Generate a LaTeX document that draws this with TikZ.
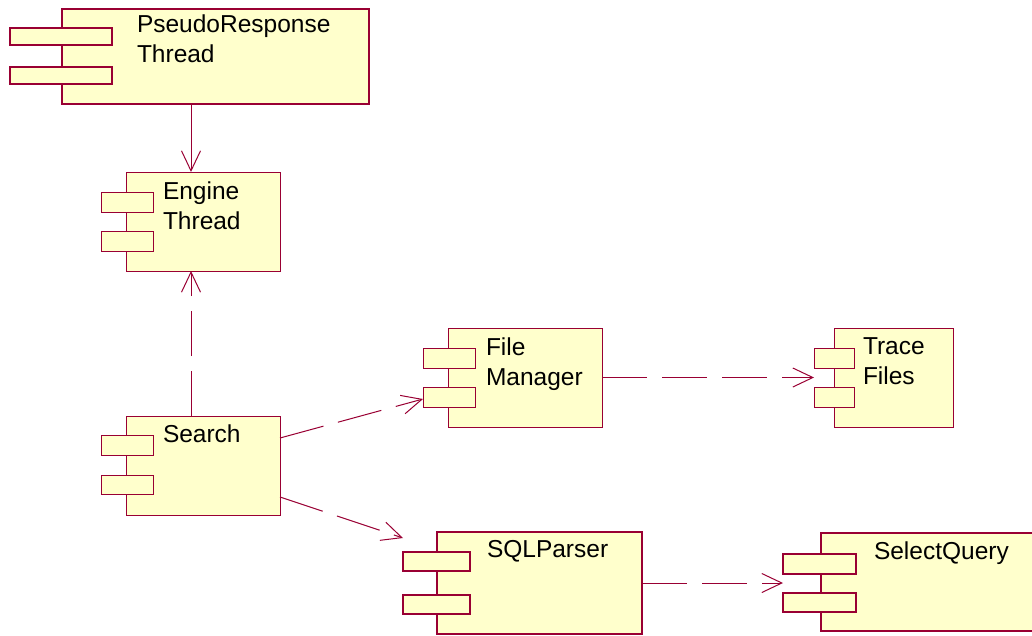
\documentclass[tikz,border=0pt]{standalone}
\usepackage{fontspec}
\setmainfont{Liberation Sans}
\usetikzlibrary{arrows.meta}
\definecolor{umlline}{RGB}{153,0,51}
\definecolor{umlfill}{RGB}{255,255,204}
\begin{document}
\begin{tikzpicture}[x=1pt,y=-1pt,
  body/.style={draw=umlline, fill=umlfill, rectangle, inner sep=0pt, outer sep=0pt, line width=1pt},
  heavy/.style={line width=2pt},
  label/.style={anchor=north west, inner sep=0pt, outer sep=0pt, align=left,
    font=\fontsize{24.5}{30.5}\selectfont},
  tip/.style={-{Straight Barb[length=20pt,width=19pt]}},
  use/.style={draw=umlline, line width=1pt, tip},
  dep/.style={use, dash pattern=on 45pt off 15pt}
]
\useasboundingbox (0,0) rectangle (1032,635);

% PseudoResponse Thread
\node[body, heavy, minimum width=307pt, minimum height=95.5pt] (pr) at (215.5,56.25) {};
\node[body, heavy, minimum width=102pt, minimum height=17.5pt] (pr-t1) at (61,36.5) {};
\node[body, heavy, minimum width=102pt, minimum height=17.5pt] (pr-t2) at (61,75.5) {};
\node[label] (pr-l) at (137,14.5) {PseudoResponse\\Thread};

% Engine Thread
\node[body, minimum width=154pt, minimum height=99pt] (eng) at (203,221.5) {};
\node[body, minimum width=52pt, minimum height=19.5pt] (eng-t1) at (127,202.5) {};
\node[body, minimum width=52pt, minimum height=19.5pt] (eng-t2) at (127,241.5) {};
\node[label] (eng-l) at (163,181.5) {Engine\\Thread};

% Search
\node[body, minimum width=154pt, minimum height=99pt] (search) at (203,465.5) {};
\node[body, minimum width=52pt, minimum height=19.5pt] (search-t1) at (127,445.5) {};
\node[body, minimum width=52pt, minimum height=19.5pt] (search-t2) at (127,485) {};
\node[label] (search-l) at (163,425) {Search};

% File Manager
\node[body, minimum width=154pt, minimum height=99pt] (fm) at (525,377.5) {};
\node[body, minimum width=52pt, minimum height=20pt] (fm-t1) at (449,358) {};
\node[body, minimum width=52pt, minimum height=20pt] (fm-t2) at (449,397) {};
\node[label] (fm-l) at (486,337.5) {File\\Manager};

% Trace Files
\node[body, minimum width=119pt, minimum height=99pt] (trace) at (893.5,377.5) {};
\node[body, minimum width=40pt, minimum height=20pt] (trace-t1) at (834,358) {};
\node[body, minimum width=40pt, minimum height=20pt] (trace-t2) at (834,397) {};
\node[label] (trace-l) at (863,337.5) {Trace\\Files};

% SQLParser
\node[body, heavy, minimum width=205pt, minimum height=102pt] (sql) at (539.5,583) {};
\node[body, heavy, minimum width=67pt, minimum height=19pt] (sql-t1) at (436.5,561.5) {};
\node[body, heavy, minimum width=67pt, minimum height=19pt] (sql-t2) at (436.5,604) {};
\node[label] (sql-l) at (487,540) {SQLParser};

% SelectQuery (runs past the right edge)
\node[body, heavy, minimum width=224pt, minimum height=98pt] (sel) at (933,582) {};
\node[body, heavy, minimum width=73pt, minimum height=19.5pt] (sel-t1) at (819.5,564) {};
\node[body, heavy, minimum width=73pt, minimum height=19.5pt] (sel-t2) at (819.5,602.5) {};
\node[label] (sel-l) at (874,542) {SelectQuery};

% connector end points on the Engine Thread box
\coordinate (eng-top) at ([xshift=-12pt]eng.north);
\coordinate (eng-bot) at ([xshift=-12pt]eng.south);

% dependencies
\draw[use] (eng-top |- pr.south) -- (eng-top);
\draw[dep] (eng-bot |- search.north) -- (eng-bot);
\draw[dep] ([yshift=-22pt]search.north east) -- ([yshift=-2pt]fm-t2.west);
\draw[dep] ([yshift=-81pt]search.north east) -- ([yshift=14pt]sql-t1.north west);
\draw[dep] (fm.east) -- (fm.east -| trace-t1.west);
\draw[dep] (sql.east) -- (sql.east -| sel-t1.west);
\end{tikzpicture}
\end{document}
